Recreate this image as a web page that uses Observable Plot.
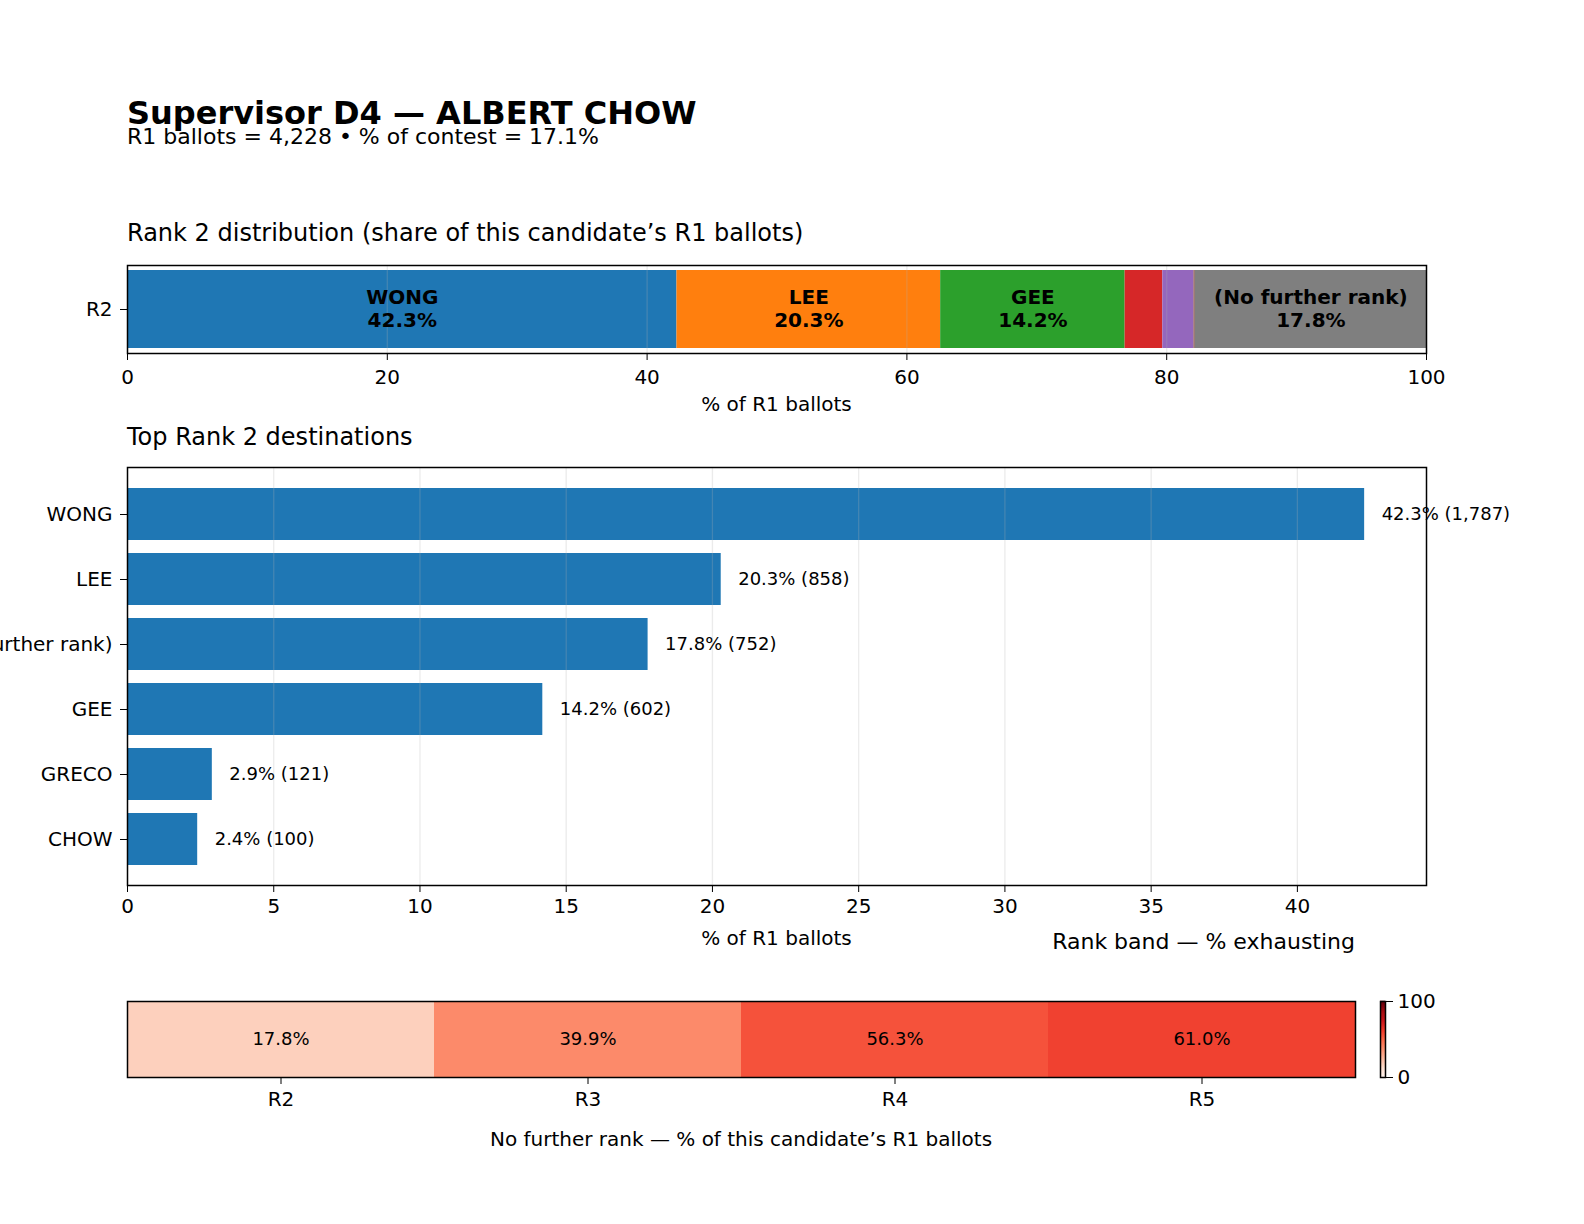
<!DOCTYPE html>
<html><head><meta charset="utf-8">
<script src="https://cdn.jsdelivr.net/npm/d3@7"></script>
<script src="https://cdn.jsdelivr.net/npm/@observablehq/plot@0.6"></script>
<style>
html,body{margin:0;padding:0;background:#fff;}
#root{position:relative;width:1584px;height:1224px;overflow:hidden;font-family:"DejaVu Sans",sans-serif;background:#fff;}
#root > * {position:absolute;}
</style></head><body><div id="root"></div>
<script>
// ---------- data ----------
const segNames = ["WONG", "LEE", "GEE", "GRECO", "CHOW", "Other", "(No further rank)"];
const segPct = [42.3, 20.3, 14.2, 2.9, 2.4, 0.1, 17.8];

const destNames = ["WONG", "LEE", "(No further rank)", "GEE", "GRECO", "CHOW"];
const destPct = [42.3, 20.3, 17.8, 14.2, 2.9, 2.4];
const destCount = [1787, 858, 752, 602, 121, 100];

const bandNames = ["R2", "R3", "R4", "R5"];
const bandPct = [17.8, 39.9, 56.3, 61.0];

const ticks1 = [0, 20, 40, 60, 80, 100];
const ticks2 = [0, 5, 10, 15, 20, 25, 30, 35, 40];

const titleText = "Supervisor D4 \u2014 ALBERT CHOW";
const subtitleText = "R1 ballots = 4,228 \u2022 % of contest = 17.1%";

// ---------- layout ----------
const W = 1584;
const root = document.getElementById("root");
function put(el, left, top) { el.style.left = left + "px"; el.style.top = top + "px"; root.appendChild(el); }
const baseStyle = {fontFamily: "DejaVu Sans", fontSize: "20px", color: "black", background: "transparent", overflow: "visible"};
const gridStyle = {stroke: "#b0b0b0", strokeOpacity: 0.25, strokeWidth: 1.3};
const frameStyle = {stroke: "black", strokeWidth: 1.5};
const tab10 = ["#1f77b4", "#ff7f0e", "#2ca02c", "#d62728", "#9467bd", "#8c564b", "#7f7f7f"];
const redsColor = {type: "linear", domain: d3.range(9).map(i => i * 100 / 8), range: d3.schemeReds[9]};

// ---------- overlay text ----------
const ns = "http://www.w3.org/2000/svg";
const overlay = document.createElementNS(ns, "svg");
overlay.setAttribute("width", W); overlay.setAttribute("height", 1224);
overlay.style.fontFamily = "DejaVu Sans";
function txt(s, x, y, size, opts = {}) {
  const t = document.createElementNS(ns, "text");
  t.setAttribute("x", x); t.setAttribute("y", y);
  t.setAttribute("font-size", size);
  t.setAttribute("text-anchor", opts.anchor || "start");
  if (opts.bold) t.setAttribute("font-weight", "bold");
  t.setAttribute("fill", "black");
  t.textContent = s;
  overlay.appendChild(t);
}
txt(titleText, 127, 124, 32, {bold: true});
txt(subtitleText, 127, 144, 22);
txt("Rank 2 distribution (share of this candidate\u2019s R1 ballots)", 127, 241, 24);
txt("% of R1 ballots", 776.5, 411, 20, {anchor: "middle"});
txt("Top Rank 2 destinations", 127, 445, 24);
txt("% of R1 ballots", 776.5, 945, 20, {anchor: "middle"});
txt("Rank band \u2014 % exhausting", 1355, 949, 22, {anchor: "end"});
txt("No further rank \u2014 % of this candidate\u2019s R1 ballots", 741, 1146, 20, {anchor: "middle"});
put(overlay, 0, 0);

// ---------- panel 1: stacked rank 2 distribution ----------
const segData = segNames.map((name, i) => ({name, pct: segPct[i], row: "R2"}));
const p1 = Plot.plot({
  width: W, height: 10 + 88 + 40,
  marginTop: 10, marginBottom: 40, marginLeft: 127, marginRight: W - 1426,
  style: baseStyle,
  x: {domain: [0, 100]},
  y: {domain: ["R2"], paddingInner: 0, paddingOuter: 0.057},
  color: {domain: segNames, range: tab10},
  marks: [
    Plot.barX(segData, {x: "pct", y: "row", fill: "name"}),
    Plot.gridX({ticks: ticks1.slice(1, -1), ...gridStyle}),
    Plot.text(segData, Plot.stackX({
      x: "pct", y: "row",
      text: d => d.pct >= 5 ? `${d.name}\n${d.pct.toFixed(1)}%` : "",
      fontWeight: "bold", fontSize: 20, lineHeight: 1.15, dy: -1, fill: "black"
    })),
    Plot.frame(frameStyle),
    Plot.axisX({ticks: ticks1, tickSize: 7, tickPadding: 9, label: null}),
    Plot.axisY({tickSize: 7, tickPadding: 8, label: null})
  ]
});
put(p1, 0, 255);

// ---------- panel 2: top destinations ----------
const destData = destNames.map((name, i) => ({name, pct: destPct[i], count: destCount[i]}));
const fmt = d3.format(",");
const p2 = Plot.plot({
  width: W, height: 10 + 418 + 40,
  marginTop: 10, marginBottom: 40, marginLeft: 127, marginRight: W - 1426,
  style: baseStyle,
  x: {domain: [0, d3.max(destPct) * 1.05]},
  y: {domain: destNames, paddingInner: 0.2, paddingOuter: 0.29},
  marks: [
    Plot.barX(destData, {x: "pct", y: "name", fill: "#1f77b4"}),
    Plot.gridX({ticks: ticks2.slice(1), ...gridStyle}),
    Plot.text(destData, {
      x: "pct", y: "name",
      text: d => `${d.pct.toFixed(1)}% (${fmt(d.count)})`,
      textAnchor: "start", dx: 17, fontSize: 18, fill: "black"
    }),
    Plot.frame(frameStyle),
    Plot.axisX({ticks: ticks2, tickSize: 7, tickPadding: 6, label: null}),
    Plot.axisY({tickSize: 7, tickPadding: 8, label: null})
  ]
});
put(p2, 0, 457);

// ---------- panel 3: exhaustion heat strip ----------
const bandData = bandNames.map((band, i) => ({band, pct: bandPct[i]}));
const p3 = Plot.plot({
  width: W, height: 10 + 76 + 50,
  marginTop: 10, marginBottom: 50, marginLeft: 127, marginRight: W - 1355,
  style: baseStyle,
  x: {domain: bandNames, padding: 0},
  color: redsColor,
  marks: [
    Plot.cell(bandData, {x: "band", fill: "pct"}),
    Plot.text(bandData, {x: "band", text: d => d.pct.toFixed(1) + "%", fontSize: 18, fill: "black"}),
    Plot.frame(frameStyle),
    Plot.axisX({tickSize: 7, tickPadding: 7, label: null})
  ]
});
put(p3, 0, 991);

// ---------- colorbar ----------
const grad = d3.range(0, 100.01, 0.5);
const p4 = Plot.plot({
  width: 90, height: 10 + 76 + 20,
  marginTop: 10, marginBottom: 20, marginLeft: 10, marginRight: 75,
  style: baseStyle,
  y: {domain: [0, 100]},
  color: redsColor,
  marks: [
    Plot.ruleY(grad, {y: d => d, stroke: d => d, strokeWidth: 1.5}),
    Plot.frame(frameStyle),
    Plot.axisY({anchor: "right", ticks: [0, 100], tickSize: 7, tickPadding: 5, label: null})
  ]
});
put(p4, 1370, 991);
</script></body></html>
